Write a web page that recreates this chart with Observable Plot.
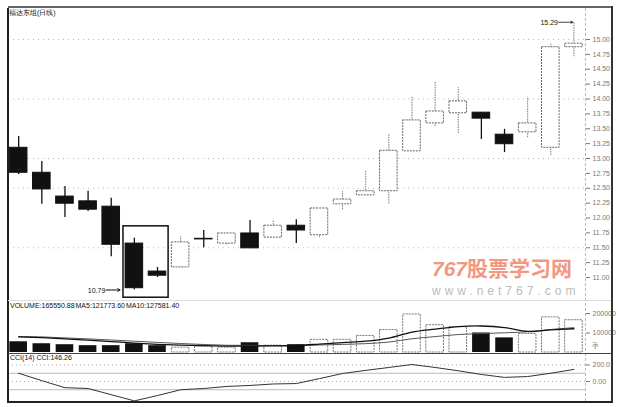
<!DOCTYPE html>
<html><head><meta charset="utf-8">
<script src="https://cdn.jsdelivr.net/npm/d3@7"></script>
<script src="https://cdn.jsdelivr.net/npm/@observablehq/plot@0.6"></script>
<style>
body{margin:0;background:#fff;}
#c{position:relative;width:620px;height:407px;overflow:hidden;background:#fff;font-family:"Liberation Sans",Arial,sans-serif;}
#c svg{position:absolute;left:0;}
.ln{position:absolute;}
.t{position:absolute;font-size:7px;line-height:8px;white-space:nowrap;color:#111;}
</style></head><body><div id="c"></div>
<script>
// ---- data ----
const titleText = "福达东组(日线)";
const opens  = [13.18,12.76,12.36,12.28,12.19,11.57,11.10,11.17,11.64,11.57,11.74,11.67,11.87,11.71,12.23,12.38,12.45,13.12,13.59,13.76,13.77,13.40,13.44,13.18,14.87];
const closes = [12.76,12.48,12.24,12.14,11.55,10.82,11.03,11.59,11.65,11.74,11.49,11.87,11.79,12.16,12.31,12.45,13.13,13.64,13.79,13.96,13.67,13.24,13.59,14.87,14.93];
const highs  = [13.37,12.95,12.53,12.45,12.33,11.66,11.17,11.69,11.79,11.76,11.96,11.96,11.97,12.16,12.45,12.80,13.40,14.03,14.29,14.19,13.77,13.49,14.03,14.92,15.29];
const lows   = [12.73,12.23,12.01,12.11,11.35,10.79,11.00,11.17,11.50,11.55,11.49,11.67,11.57,11.67,12.14,12.38,12.24,13.12,13.54,13.42,13.32,13.10,13.35,13.05,14.71];
const volumes = [55000,45000,40000,35000,35000,45000,35000,25000,30000,25000,50000,35000,40000,65000,65000,85000,115000,195000,140000,130000,100000,75000,95000,180000,165550.88];
const ma5  = [80000,76000,70000,63000,56000,48000,42000,38000,35000,33000,33000,34000,36000,43000,51000,58000,74000,105000,120000,133000,136000,128000,108000,116000,121773.6];
const ma10 = [82000,80000,75000,70000,64000,58000,52000,46000,41000,37000,36500,35500,35500,38500,41500,45500,53500,70500,81500,92000,97000,101000,106500,118000,127581.4];
const cci  = [100,10,-75,-85,-160,-235,-170,-100,-85,-60,-48,-30,-25,35,97,135,170,206,170,130,85,50,60,100,146.26];
const priceTicks = [11,11.25,11.5,11.75,12,12.25,12.5,12.75,13,13.25,13.5,13.75,14,14.25,14.5,14.75,15];
const priceGrid = [11.5,12.5,13,14,15];
const volTicks = [100000,200000];
const cciTicks = [0,200];
const cciTickLabels = ["0.00","200.0"];
const volText = "VOLUME:165550.88  MA5:121773.60  MA10:127581.40";
const cciText = "CCI(14)  CCI:146.26";
const volUnit = "手";
const lowNote = {i:5, v:10.79, label:"10.79"};
const highNote = {i:24, v:15.29, label:"15.29"};
const boxRange = {i1:5, i2:6, top:11.86};

// ---- build ----
const rows = opens.map((o,i)=>({i, open:o, close:closes[i], high:highs[i], low:lows[i],
  vol:volumes[i], ma5:ma5[i], ma10:ma10[i], cci:cci[i],
  up: closes[i] >= opens[i], doji: Math.abs(closes[i]-opens[i]) < 0.02}));
const upC = rows.filter(d=>d.up && !d.doji), dnC = rows.filter(d=>!d.up || d.doji);
const upV = rows.filter(d=>d.up), dnV = rows.filter(d=>!d.up);
const bw = 0.38;
const style = {background:"transparent", fontFamily:"Liberation Sans, Arial, sans-serif", fontSize:"7px", color:"#111"};
const common = {width:620, marginLeft:8, marginRight:35, x:{domain:[-0.44,24.5], axis:null}, style};
const c = document.getElementById("c");

const price = Plot.plot({...common, height:300, marginTop:8, marginBottom:2,
  y:{domain:[10.647,15.521], axis:null},
  marks:[
    Plot.ruleY(priceGrid, {stroke:"#bbb", strokeDasharray:"1,4"}),
    Plot.axisY(priceTicks, {anchor:"right", tickFormat:d3.format(".2f"), tickSize:4, tickPadding:3, fontSize:7, color:"#777", label:null}),
    Plot.ruleX(upC, {x:"i", y1:"low", y2:"high", stroke:"#777", strokeDasharray:"1.5,1"}),
    Plot.ruleX(dnC, {x:"i", y1:"low", y2:"high", stroke:"#111", strokeWidth:1.3}),
    Plot.rect(upC, {x1:d=>d.i-bw, x2:d=>d.i+bw, y1:"open", y2:"close", fill:"white", stroke:"#666", strokeDasharray:"2,1"}),
    Plot.rect(dnC, {x1:d=>d.i-bw, x2:d=>d.i+bw, y1:"open", y2:"close", fill:"#111", stroke:"#111"}),
    Plot.rect([boxRange], {x1:d=>d.i1-0.47, x2:d=>d.i2+0.48, y1:10.66, y2:"top", fill:"none", stroke:"#111", strokeWidth:1.5}),
    Plot.text([lowNote], {x:"i", y:"v", text:"label", textAnchor:"end", dx:-29, dy:1, fontSize:7, fill:"#111"}),
    Plot.arrow([lowNote], {x1:d=>d.i-1.22, x2:d=>d.i-0.62, y1:"v", y2:"v", stroke:"#111", headLength:4, strokeWidth:1}),
    Plot.text([highNote], {x:"i", y:"v", text:"label", textAnchor:"end", dx:-16, dy:1, fontSize:7, fill:"#111"}),
    Plot.arrow([highNote], {x1:d=>d.i-0.66, x2:d=>d.i-0.05, y1:"v", y2:"v", stroke:"#111", headLength:4, strokeWidth:0.8})
  ]});
price.style.top = "0px";
c.appendChild(price);

const vol = Plot.plot({...common, height:53, marginTop:0, marginBottom:1,
  y:{domain:[0,266667], axis:null},
  marks:[
    Plot.rect(upV, {x1:d=>d.i-bw, x2:d=>d.i+bw, y1:0, y2:"vol", fill:"white", stroke:"#777", strokeDasharray:"2,1"}),
    Plot.rect(dnV, {x1:d=>d.i-bw, x2:d=>d.i+bw, y1:0, y2:"vol", fill:"#111"}),
    Plot.line(rows, {x:"i", y:"ma10", stroke:"#555", strokeWidth:1, curve:"catmull-rom"}),
    Plot.line(rows, {x:"i", y:"ma5", stroke:"#111", strokeWidth:1.3, curve:"catmull-rom"}),
    Plot.axisY(volTicks, {anchor:"right", tickFormat:d3.format("d"), tickSize:4, tickPadding:3, fontSize:7, color:"#777", label:null})
  ]});
vol.style.top = "300px";
c.appendChild(vol);

const cc = Plot.plot({...common, height:49, marginTop:0, marginBottom:1,
  y:{domain:[-242.4,339.4], axis:null},
  marks:[
    Plot.ruleY([200,0], {stroke:"#aaa", strokeDasharray:"1,3"}),
    Plot.ruleY([100,-100], {stroke:"#bbb"}),
    Plot.line(rows, {x:"i", y:"cci", stroke:"#333", strokeWidth:1}),
    Plot.axisY(cciTicks, {anchor:"right", tickFormat:(d,k)=>cciTickLabels[k], tickSize:4, tickPadding:3, fontSize:7, color:"#777", label:null})
  ]});
cc.style.top = "353px";
c.appendChild(cc);

// ---- frame, texts, watermark ----
function line(l,t,w,h,bg,extra){const d=document.createElement("div");d.className="ln";
  Object.assign(d.style,{left:l+"px",top:t+"px",width:w+"px",height:h+"px",background:bg},extra||{});c.appendChild(d);}
line(8,6,604,2,"#666");
line(7,8,1.5,394,"#222");
line(611,6,1.5,397,"#333");
line(7,401,605,1.5,"#222");
line(585,8,0,393,"transparent",{borderLeft:"1px dashed #bbb"});
line(8,300,603,1,"#ddd");
line(8,352.5,604,1,"#444");

function text(s,l,t,extra){const d=document.createElement("div");d.className="t";d.textContent=s;
  Object.assign(d.style,{left:l+"px",top:t+"px"},extra||{});c.appendChild(d);}
text(titleText,9,9);
text(volText,10,302,{wordSpacing:"-1px"});
text(cciText,10,354);
text(volUnit,592,342,{color:"#777"});

const wm = document.createElement("div");
Object.assign(wm.style,{position:"absolute",left:"432px",top:"255px",fontFamily:"'Noto Sans CJK SC',sans-serif",fontWeight:"bold",fontSize:"21px",lineHeight:"24px",color:"#f0866a",opacity:"0.85",whiteSpace:"nowrap"});
wm.innerHTML = '<span style="font-style:italic;font-family:Liberation Sans,Arial">767</span>股票学习网';
c.appendChild(wm);
const wm2 = document.createElement("div");
Object.assign(wm2.style,{position:"absolute",left:"432px",top:"284px",fontFamily:"Liberation Sans,Arial",fontSize:"12px",lineHeight:"14px",color:"#bbb",letterSpacing:"4px",whiteSpace:"nowrap"});
wm2.textContent = "www.net767.com";
c.appendChild(wm2);
</script></body></html>
